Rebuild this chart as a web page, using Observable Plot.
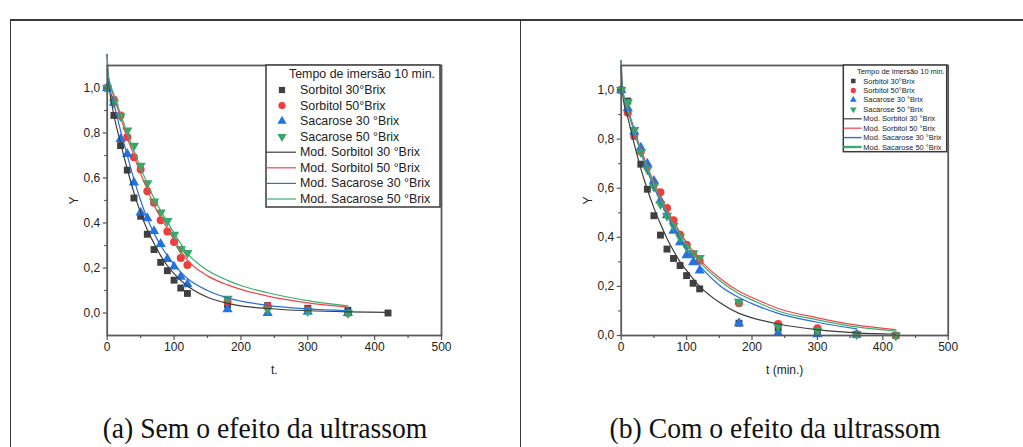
<!DOCTYPE html>
<html><head><meta charset="utf-8">
<script src="https://cdn.jsdelivr.net/npm/d3@7"></script>
<script src="https://cdn.jsdelivr.net/npm/@observablehq/plot@0.6"></script>
<style>
html,body{margin:0;padding:0;background:#fff;width:1023px;height:447px;overflow:hidden;}
#page{position:relative;width:1023px;height:447px;}
.ln{position:absolute;background:#3a3a3a;}
.cap{position:absolute;font-family:"Liberation Serif",serif;font-size:28.5px;color:#111;white-space:nowrap;transform:translateX(-50%) scaleX(0.97);top:413px;line-height:32px;}
#pa,#pb{position:absolute;top:0;}
#pa{left:0}#pb{left:520px}
#leg{position:absolute;left:0;top:0;pointer-events:none;}
</style></head><body>
<div id="page">
  <div class="ln" style="left:10px;top:18.5px;width:1013px;height:2px"></div>
  <div class="ln" style="left:9.5px;top:19px;width:1.5px;height:428px"></div>
  <div class="ln" style="left:519.5px;top:19px;width:1.5px;height:428px"></div>
  <div id="pa"></div>
  <div id="pb"></div>
  <div class="cap" style="left:265px">(a) Sem o efeito da ultrassom</div>
  <div class="cap" style="left:775px">(b) Com o efeito da ultrassom</div>
</div>
<script>
// ---------- data ----------
const tData = [0,10,20,30,40,50,60,70,80,90,100,110,120,180,240,300,360,420];
const tModel = [0,1,4,10,20,30,40,50,60,70,80,90,100,120,150,180,200,240,300,360,420];

// Panel (a) — sem ultrassom
const aSorb30 = [1.0,0.878,0.744,0.635,0.511,0.43,0.35,0.282,0.225,0.188,0.146,0.111,0.087,0.036,0.033,0.021,0.012,0.0];
const aSorb50 = [1.0,0.948,0.878,0.782,0.692,0.638,0.541,0.49,0.412,0.362,0.316,0.245,0.213,0.049,0.03,0.015,0.0];
const aSac30  = [1.0,0.934,0.773,0.707,0.580,0.446,0.421,0.364,0.307,0.240,0.206,0.161,0.128,0.016,0.0,0.005,0.0];
const aSac50  = [1.0,0.935,0.875,0.811,0.744,0.655,0.577,0.496,0.447,0.409,0.348,0.285,0.267,0.064,0.016,0.009,0.0];
const aModSorb30 = [1.15,1.05,0.98,0.88,0.755,0.64,0.535,0.445,0.37,0.31,0.255,0.21,0.175,0.12,0.07,0.043,0.032,0.02,0.01,0.005,0.003];
const aModSorb50 = [1.15,1.07,1.02,0.96,0.87,0.78,0.70,0.62,0.55,0.48,0.425,0.375,0.325,0.235,0.165,0.125,0.105,0.075,0.045,0.026];
const aModSac30  = [1.15,1.06,1.0,0.93,0.81,0.70,0.595,0.50,0.42,0.355,0.30,0.255,0.215,0.153,0.10,0.067,0.053,0.034,0.018,0.01];
const aModSac50  = [1.15,1.07,1.025,0.97,0.885,0.80,0.72,0.645,0.575,0.51,0.455,0.405,0.355,0.265,0.19,0.145,0.122,0.09,0.055,0.032];

// Panel (b) — com ultrassom
const bSorb30 = [1.0,0.955,0.813,0.698,0.596,0.488,0.409,0.352,0.314,0.285,0.244,0.213,0.190,0.05,0.03,0.018,0.005,0.0];
const bSorb50 = [1.0,0.908,0.813,0.75,0.69,0.62,0.584,0.519,0.47,0.41,0.37,0.331,0.305,0.131,0.047,0.03,0.005,0.0];
const bSac30  = [1.0,0.926,0.83,0.765,0.70,0.63,0.55,0.49,0.427,0.38,0.327,0.298,0.265,0.05,0.01,0.005,0.003];
const bSac50  = [1.0,0.95,0.837,0.747,0.676,0.606,0.535,0.488,0.447,0.40,0.362,0.335,0.316,0.138,0.037,0.02,0.005,0.0];
const bModSorb30 = [1.12,1.02,0.95,0.89,0.78,0.68,0.595,0.52,0.455,0.395,0.345,0.30,0.265,0.20,0.135,0.09,0.072,0.047,0.024,0.011,0.005];
const bModSorb50 = [1.12,1.03,0.975,0.925,0.84,0.76,0.69,0.625,0.565,0.51,0.465,0.42,0.38,0.31,0.235,0.18,0.155,0.11,0.072,0.042,0.024];
const bModSac30  = [1.12,1.03,0.97,0.915,0.83,0.745,0.67,0.605,0.545,0.49,0.44,0.395,0.355,0.285,0.205,0.155,0.13,0.09,0.054,0.027];
const bModSac50  = [1.12,1.03,0.975,0.92,0.835,0.75,0.68,0.615,0.555,0.50,0.455,0.41,0.37,0.30,0.225,0.17,0.145,0.10,0.064,0.035,0.018];

const xTicks = [0,100,200,300,400,500];
const xMinor = [50,150,250,350,450];
const yTicks = [0,0.2,0.4,0.6,0.8,1.0];
const yMinor = [0.1,0.3,0.5,0.7,0.9];

const legendTitle = "Tempo de imersão 10 min.";
const pointNames = ["Sorbitol 30°Brix","Sorbitol 50°Brix","Sacarose 30 °Brix","Sacarose 50 °Brix"];
const modelNames = ["Mod. Sorbitol 30 °Brix","Mod. Sorbitol 50 °Brix","Mod. Sacarose 30 °Brix","Mod. Sacarose 50 °Brix"];
const pointColors = ["#404040","#f03c3c","#2274e2","#35a865"];
const lineColors = ["#3c3c3c","#f0454c","#2a6fd8","#3aae6e"];
const symbols = [["square",0],["circle",0],["triangle",0],["triangle",180]];
const radii = [3.9,4.0,3.8,3.8];

// ---------- helpers ----------
const pts = vals => vals.map((v,i)=>({t:tData[i], y:v}));
const mdl = vals => vals.map((v,i)=>({t:tModel[i], y:v}));
const fmtY = d => d.toFixed(1).replace(".", ",");

function panel({points, models, yDomain, xLabel, width, ml, mr}) {
  const marks = [];
  points.forEach((vals,k)=>{
    marks.push(Plot.dot(pts(vals), {x:"t", y:"y", symbol:symbols[k][0], rotate:symbols[k][1], r:radii[k], fill:pointColors[k], stroke:"none"}));
  });
  models.forEach((vals,k)=>{
    marks.push(Plot.line(mdl(vals), {x:"t", y:"y", stroke:lineColors[k], strokeWidth:1.2, curve:"monotone-x"}));
  });
  marks.push(Plot.frame({stroke:"#5a5a5a", strokeWidth:1.8}));
  marks.push(Plot.axisX({ticks:xTicks, tickSize:5, tickPadding:2, stroke:"#555", strokeWidth:1.2, fill:"#222", label:xLabel, labelAnchor:"center", labelOffset:38, labelArrow:"none"}));
  marks.push(Plot.axisX({ticks:xMinor, tickSize:3, stroke:"#555", strokeWidth:1.2, tickFormat:()=>"", label:null}));
  marks.push(Plot.axisY({ticks:yTicks, tickSize:4, tickPadding:3, stroke:"#555", strokeWidth:1.2, fill:"#222", tickFormat:fmtY, label:"Y", labelAnchor:"center", labelOffset:38, labelArrow:"none"}));
  marks.push(Plot.axisY({ticks:yMinor, tickSize:2.5, stroke:"#555", strokeWidth:1.2, tickFormat:()=>"", label:null}));
  return Plot.plot({
    width, height:390, marginLeft:ml, marginRight:mr, marginTop:65, marginBottom:55,
    x:{domain:[0,500]}, y:{domain:yDomain},
    style:{fontFamily:"'Liberation Sans', Arial, sans-serif", fontSize:"12px", color:"#222", background:"transparent", overflow:"visible"},
    marks
  });
}

document.getElementById("pa").appendChild(panel({
  points:[aSorb30,aSorb50,aSac30,aSac50], models:[aModSorb30,aModSorb50,aModSac30,aModSac50],
  yDomain:[-0.1,1.1], xLabel:"t.", width:520, ml:106.7, mr:79
}));
document.getElementById("pb").appendChild(panel({
  points:[bSorb30,bSorb50,bSac30,bSac50], models:[bModSorb30,bModSorb50,bModSac30,bModSac50],
  yDomain:[0,1.1], xLabel:"t (min.)", width:503, ml:100.7, mr:75.3
}));

// ---------- legends ----------
const svg = d3.select("#page").append("svg").attr("id","leg").attr("width",1023).attr("height",447);
function legend(L) {
  const g = svg.append("g").style("font-family","'Liberation Sans', Arial, sans-serif").style("font-size", L.fs+"px").attr("fill","#222");
  g.append("rect").attr("x",L.x).attr("y",L.y).attr("width",L.w).attr("height",L.h).attr("fill","#fff").attr("stroke","#3a3a3a").attr("stroke-width",1.5);
  g.append("text").attr("x",L.tx).attr("y",L.ty).attr("dominant-baseline","central").text(legendTitle);
  pointNames.forEach((n,k)=>{
    const y = L.rows[k];
    const type = symbols[k][0]==="square"?d3.symbolSquare:symbols[k][0]==="circle"?d3.symbolCircle:d3.symbolTriangle;
    g.append("path").attr("d", d3.symbol(type, Math.PI*(radii[k]*L.ms)**2)())
      .attr("transform",`translate(${L.mx},${y}) rotate(${symbols[k][1]})`).attr("fill",pointColors[k]);
    g.append("text").attr("x",L.textX).attr("y",y).attr("dominant-baseline","central").text(n);
  });
  modelNames.forEach((n,k)=>{
    const y = L.rows[k+4];
    g.append("line").attr("x1",L.x).attr("x2",L.lx2).attr("y1",y).attr("y2",y).attr("stroke",lineColors[k]).attr("stroke-width",L.lw[k]);
    g.append("text").attr("x",L.textX).attr("y",y).attr("dominant-baseline","central").text(n);
  });
}
legend({x:266, y:65, w:174, h:142, fs:12.4, tx:289, ty:74, rows:[90,105.5,121,136.6,152.2,167.8,183.4,199], mx:282, lx2:296, textX:300, ms:0.9, lw:[1.2,1.2,1.2,1.2]});
legend({x:843.3, y:65, w:103.4, h:86.7, fs:7.45, tx:857, ty:71.7, rows:[81,90.4,99.9,109.3,118.8,128.2,137.6,147], mx:853.3, lx2:861.7, textX:863.3, ms:0.65, lw:[1.2,1.2,1.4,2.4]});
</script>
</body></html>
